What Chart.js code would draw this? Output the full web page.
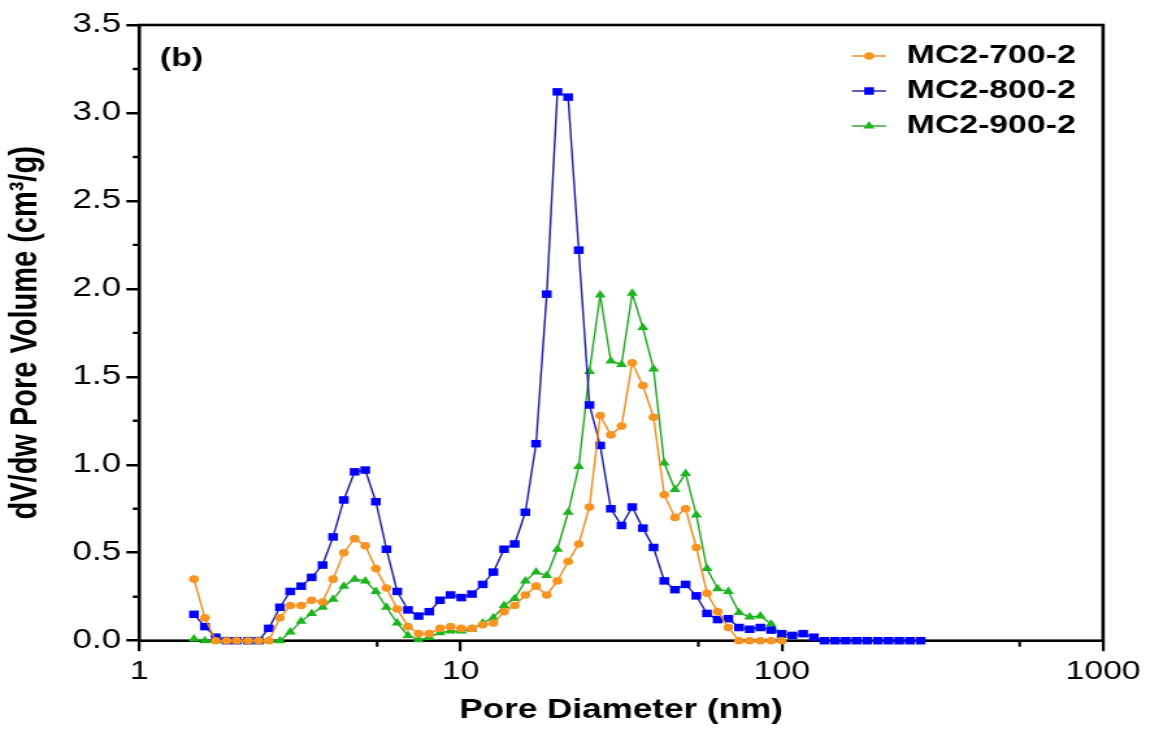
<!DOCTYPE html>
<html>
<head>
<meta charset="utf-8">
<script src="https://cdn.jsdelivr.net/npm/chart.js@4.4.1/dist/chart.umd.min.js"></script>
<style>
  html, body { margin: 0; padding: 0; background: #fff; overflow: hidden; }
  /* the figure is laid out narrow and widened horizontally */
  #wrap { width: 885px; height: 733px; transform: scaleX(1.2994); transform-origin: 0 0; }
</style>
</head>
<body>
<div id="wrap"><canvas id="c" width="885" height="733"></canvas></div>
<script>
// Pore diameter (nm), log-spaced BJH bins
const poreDiameter = [1.48, 1.60, 1.73, 1.87, 2.01, 2.18, 2.35, 2.53, 2.74, 2.95,
  3.19, 3.44, 3.72, 4.01, 4.33, 4.68, 5.05, 5.45, 5.88, 6.35,
  6.86, 7.40, 7.99, 8.63, 9.31, 10.05, 10.85, 11.72, 12.65, 13.66,
  14.74, 15.91, 17.18, 18.55, 20.02, 21.62, 23.33, 25.19, 27.20, 29.36,
  31.70, 34.22, 36.94, 39.88, 43.05, 46.48, 50.18, 54.17, 58.48, 63.14,
  68.16, 73.58, 79.43, 85.75, 92.57, 99.95, 107.9, 116.5, 125.8, 135.8,
  146.6, 158.2, 170.8, 184.4, 199.1, 214.9, 232.0, 250.5, 270.4];

// dV/dw pore volume (cm3/g)
const mc2_700 = [0.35, 0.13, 0, 0, 0, 0, 0, 0, 0.13, 0.20,
  0.20, 0.23, 0.22, 0.35, 0.50, 0.58, 0.54, 0.41, 0.30, 0.18,
  0.08, 0.04, 0.04, 0.07, 0.08, 0.07, 0.07, 0.09, 0.10, 0.165,
  0.20, 0.26, 0.31, 0.26, 0.34, 0.45, 0.55, 0.76, 1.28, 1.17,
  1.22, 1.58, 1.45, 1.27, 0.83, 0.70, 0.75, 0.53, 0.27, 0.165,
  0.075, 0, 0, 0, 0, 0];

const mc2_800 = [0.15, 0.08, 0.02, 0, 0, 0, 0, 0.07, 0.19, 0.28,
  0.31, 0.36, 0.43, 0.59, 0.80, 0.96, 0.97, 0.79, 0.52, 0.28,
  0.175, 0.14, 0.165, 0.23, 0.26, 0.245, 0.265, 0.32, 0.39, 0.52,
  0.55, 0.73, 1.12, 1.97, 3.12, 3.09, 2.22, 1.34, 1.11, 0.75,
  0.655, 0.76, 0.64, 0.53, 0.34, 0.29, 0.32, 0.255, 0.155, 0.12,
  0.125, 0.075, 0.065, 0.075, 0.06, 0.04, 0.03, 0.04, 0.02, 0,
  0, 0, 0, 0, 0, 0, 0, 0, 0];

const mc2_900 = [0.01, 0, 0, 0, 0, 0, 0, 0, 0, 0.05,
  0.11, 0.155, 0.19, 0.235, 0.31, 0.35, 0.34, 0.28, 0.19, 0.10,
  0.03, 0.005, 0.02, 0.045, 0.055, 0.055, 0.065, 0.10, 0.13, 0.20,
  0.24, 0.34, 0.39, 0.37, 0.52, 0.73, 0.99, 1.53, 1.965, 1.59,
  1.57, 1.975, 1.78, 1.545, 1.01, 0.86, 0.95, 0.715, 0.41, 0.295,
  0.28, 0.16, 0.135, 0.14, 0.095, 0.03];

const seriesNames = ['MC2-700-2', 'MC2-800-2', 'MC2-900-2'];
const xTickValues = [1, 10, 100, 1000];
const xTickLabels = ['1', '10', '100', '1000'];
const xMinorTicks = [5.5, 55, 550];
const yMinorTicks = [0.25, 0.75, 1.25, 1.75, 2.25, 2.75, 3.25];
const panelLabel = '(b)';
const xTitle = 'Pore Diameter (nm)';
const yTitle = 'dV/dw Pore Volume (cm³/g)';

const FONT = "'Liberation Sans', Arial, Helvetica, sans-serif";

function toPoints(values) {
  return values.map((v, i) => ({ x: poreDiameter[i], y: v }));
}

const styles = [
  { line: '#F08A1C', fill: '#F7931E', shape: 'circle', r: 3.8 },
  { line: '#1C1CA0', fill: '#0000FF', shape: 'rect', r: 5.3 },
  { line: '#1FA61F', fill: '#1DB51D', shape: 'triangle', r: 5.0 }
];
const seriesValues = [mc2_700, mc2_800, mc2_900];

const datasets = seriesValues.map((vals, k) => ({
  label: seriesNames[k],
  data: toPoints(vals),
  borderColor: styles[k].line,
  borderWidth: 1.4,
  backgroundColor: styles[k].fill,
  pointBackgroundColor: styles[k].fill,
  pointBorderWidth: 0,
  pointStyle: styles[k].shape,
  pointRadius: styles[k].r,
  tension: 0,
  clip: false
}));

// marker drawing for the legend keys
function drawMarker(ctx, shape, r, cx, cy) {
  ctx.beginPath();
  if (shape === 'circle') {
    ctx.arc(cx, cy, r, 0, Math.PI * 2);
  } else if (shape === 'rect') {
    const h = r * Math.SQRT1_2;
    ctx.rect(cx - h, cy - h, 2 * h, 2 * h);
  } else {
    const side = r * Math.sqrt(3);
    const height = side * Math.sqrt(3) / 2;
    ctx.moveTo(cx, cy - 2 * height / 3);
    ctx.lineTo(cx + side / 2, cy + height / 3);
    ctx.lineTo(cx - side / 2, cy + height / 3);
    ctx.closePath();
  }
  ctx.fill();
}

// frame around the plot plus minor tick marks
const framePlugin = {
  id: 'frame',
  beforeDatasetsDraw(chart) {
    const { ctx, chartArea: a, scales: { x, y } } = chart;
    ctx.save();
    ctx.strokeStyle = '#000';
    ctx.lineWidth = 2.6;
    ctx.strokeRect(a.left, a.top, a.right - a.left, a.bottom - a.top);
    ctx.lineWidth = 2.4;
    ctx.beginPath();
    yMinorTicks.forEach(v => {
      const py = y.getPixelForValue(v);
      ctx.moveTo(a.left - 5, py); ctx.lineTo(a.left, py);
    });
    ctx.stroke();
    ctx.lineWidth = 2.1;
    ctx.beginPath();
    xMinorTicks.forEach(v => {
      const px = x.getPixelForValue(v);
      ctx.moveTo(px, a.bottom); ctx.lineTo(px, a.bottom + 6);
    });
    ctx.stroke();
    ctx.restore();
  }
};

// legend keys (line + marker) and the panel letter
const legendPlugin = {
  id: 'keyLegend',
  afterDraw(chart) {
    const { ctx } = chart;
    ctx.save();
    const rows = [56, 91, 126];
    chart.data.datasets.forEach((ds, k) => {
      const cy = rows[k];
      ctx.strokeStyle = styles[k].line;
      ctx.lineWidth = 1.4;
      ctx.beginPath();
      ctx.moveTo(655.7, cy); ctx.lineTo(681.9, cy);
      ctx.stroke();
      ctx.fillStyle = styles[k].fill;
      drawMarker(ctx, styles[k].shape, styles[k].r, 668.8, cy);
      ctx.fillStyle = '#000';
      ctx.font = 'bold 26px ' + FONT;
      ctx.textAlign = 'left';
      ctx.textBaseline = 'middle';
      ctx.fillText(ds.label, 697.8, cy);
    });
    ctx.fillStyle = '#000';
    ctx.font = 'bold 26px ' + FONT;
    ctx.textAlign = 'left';
    ctx.textBaseline = 'middle';
    ctx.fillText(panelLabel, 123.1, 59);
    ctx.restore();
  }
};

new Chart(document.getElementById('c'), {
  type: 'line',
  data: { datasets },
  options: {
    responsive: false,
    animation: false,
    devicePixelRatio: 1,
    layout: { padding: { top: 25, right: 36.1, bottom: 0, left: 0 } },
    plugins: { legend: { display: false }, tooltip: { enabled: false } },
    scales: {
      x: {
        type: 'logarithmic',
        position: 'bottom',
        min: 1,
        max: 1000,
        afterBuildTicks: s => { s.ticks = xTickValues.map(v => ({ value: v })); },
        afterFit: s => { s.height = 92.3; },
        ticks: {
          autoSkip: false, maxRotation: 0, minRotation: 0, padding: 5,
          color: '#000', font: { family: FONT, size: 26 },
          callback: (v, i) => xTickLabels[i]
        },
        grid: {
          display: true, drawOnChartArea: false, drawTicks: true,
          tickLength: 10.5, tickWidth: 2.2, tickColor: '#000', color: '#000', lineWidth: 2.2
        },
        border: { display: false },
        title: {
          display: true, text: xTitle, color: '#000',
          font: { family: FONT, size: 27, weight: 'bold' },
          padding: { top: 0, bottom: 6 }
        }
      },
      y: {
        min: 0,
        max: 3.5,
        afterFit: s => { s.width = 107.2; },
        ticks: {
          stepSize: 0.5, padding: 4, color: '#000',
          font: { family: FONT, size: 27 },
          callback: v => Number(v).toFixed(1)
        },
        grid: {
          display: true, drawOnChartArea: false, drawTicks: true,
          tickLength: 10, tickWidth: 2.5, tickColor: '#000', color: '#000', lineWidth: 2.5
        },
        border: { display: false },
        title: {
          display: true, text: yTitle, color: '#000',
          font: { family: FONT, size: 29, weight: 'bold' },
          padding: { top: 3, bottom: 0 }
        }
      }
    }
  },
  plugins: [framePlugin, legendPlugin]
});
</script>
</body>
</html>
